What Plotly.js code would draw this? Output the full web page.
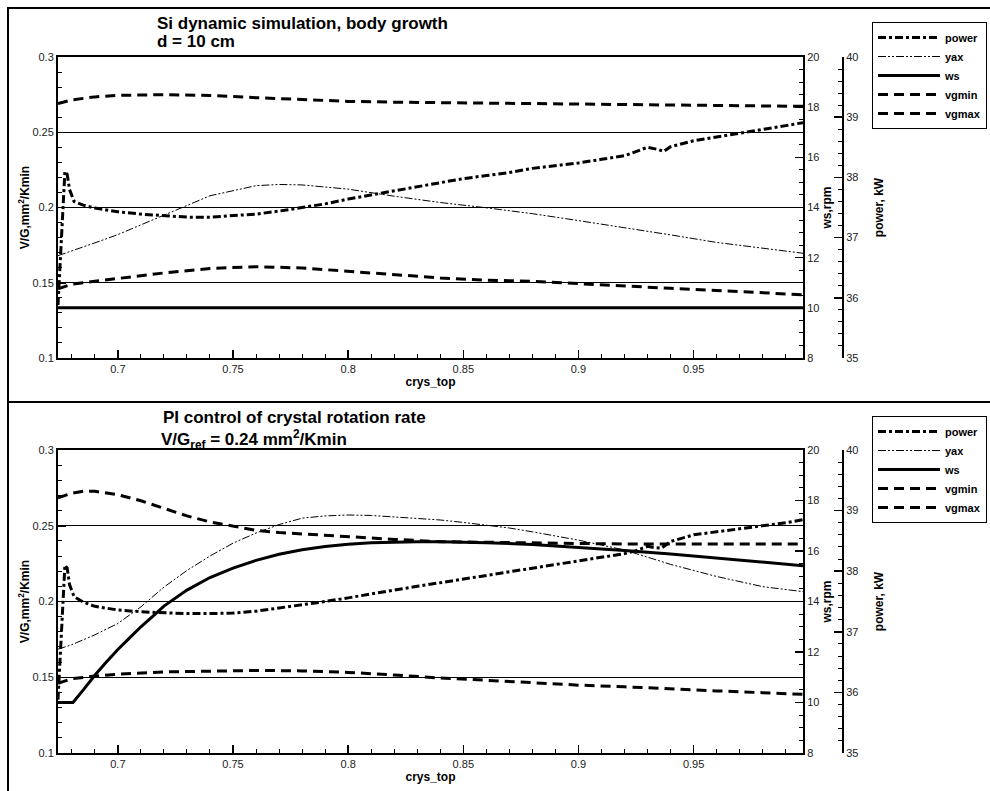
<!DOCTYPE html>
<html>
<head>
<meta charset="utf-8">
<script src="https://cdn.plot.ly/plotly-3.0.1.min.js"></script>
<style>html,body{margin:0;padding:0;background:#fff}#chart{width:990px;height:791px}</style>
</head>
<body>
<div id="chart"></div>
<script>
// ---------- top panel: Si dynamic simulation, body growth ----------
const topVgX      = [0.674,0.68,0.69,0.70,0.72,0.74,0.76,0.78,0.80,0.82,0.84,0.86,0.88,0.90,0.92,0.94,0.96,0.98,0.9975];
const topVgmax    = [0.269,0.2715,0.2735,0.2745,0.275,0.2745,0.273,0.2715,0.2705,0.270,0.2697,0.2693,0.269,0.2687,0.2683,0.268,0.2677,0.2675,0.2672];
const topVgmin    = [0.146,0.149,0.151,0.1528,0.1565,0.1595,0.1607,0.1598,0.1575,0.155,0.1532,0.1517,0.151,0.1494,0.1477,0.1463,0.1449,0.1435,0.142];
const topYaxX     = [0.674,0.68,0.69,0.70,0.72,0.74,0.76,0.77,0.78,0.80,0.82,0.84,0.86,0.88,0.90,0.92,0.94,0.96,0.98,0.9975];
const topYax      = [0.168,0.171,0.1765,0.182,0.1949,0.2078,0.2145,0.2153,0.2150,0.2122,0.2075,0.2033,0.1998,0.1959,0.1913,0.1867,0.1818,0.1768,0.1729,0.1696];
const topWsX      = [0.674,0.9975];
const topWs       = [10,10];
const topPowerX   = [0.674,0.675,0.676,0.677,0.678,0.679,0.681,0.685,0.69,0.70,0.71,0.72,0.73,0.74,0.75,0.76,0.77,0.78,0.79,0.80,0.81,0.82,0.83,0.84,0.85,0.86,0.87,0.88,0.89,0.90,0.91,0.92,0.93,0.935,0.937,0.94,0.95,0.96,0.97,0.98,0.99,0.9975];
const topPower    = [35.88,36.63,37.50,38.10,38.05,37.80,37.60,37.54,37.49,37.43,37.39,37.36,37.34,37.34,37.36,37.39,37.44,37.50,37.56,37.64,37.71,37.78,37.85,37.91,37.98,38.03,38.08,38.15,38.19,38.24,38.30,38.36,38.50,38.46,38.43,38.51,38.61,38.67,38.74,38.80,38.86,38.91];

// ---------- bottom panel: PI control of crystal rotation rate ----------
const botVgmaxX   = [0.674,0.68,0.685,0.69,0.70,0.71,0.72,0.73,0.74,0.75,0.76,0.77,0.78,0.80,0.82,0.84,0.86,0.88,0.90,0.92,0.94,0.96,0.98,0.9975];
const botVgmax    = [0.2685,0.2715,0.2728,0.2727,0.2705,0.2665,0.2615,0.2565,0.2525,0.2495,0.247,0.2455,0.2445,0.2425,0.241,0.2395,0.239,0.2385,0.2383,0.238,0.238,0.238,0.238,0.238];
const botVgminX   = [0.674,0.68,0.69,0.70,0.72,0.74,0.76,0.78,0.80,0.82,0.84,0.86,0.88,0.90,0.92,0.94,0.96,0.98,0.9975];
const botVgmin    = [0.146,0.149,0.1508,0.152,0.1535,0.1542,0.1545,0.1542,0.1532,0.1515,0.1495,0.148,0.1462,0.1448,0.1437,0.1422,0.141,0.1398,0.1387];
const botYaxX     = [0.674,0.68,0.69,0.70,0.71,0.72,0.73,0.74,0.75,0.76,0.77,0.78,0.79,0.80,0.81,0.82,0.83,0.84,0.85,0.86,0.87,0.88,0.89,0.90,0.92,0.94,0.96,0.98,0.9975];
const botYax      = [0.1685,0.1715,0.178,0.1855,0.1965,0.2095,0.2205,0.230,0.2385,0.2452,0.2508,0.255,0.2565,0.2571,0.2568,0.2558,0.2552,0.2538,0.2522,0.2505,0.2485,0.246,0.2435,0.2405,0.234,0.2245,0.2165,0.2098,0.2065];
const botWsX      = [0.674,0.6805,0.685,0.69,0.695,0.70,0.705,0.71,0.715,0.72,0.73,0.74,0.75,0.76,0.77,0.78,0.79,0.80,0.81,0.82,0.83,0.84,0.86,0.88,0.90,0.92,0.94,0.96,0.98,0.9975];
const botWs       = [10,10,10.5,11.08,11.6,12.1,12.55,13.0,13.4,13.82,14.45,14.95,15.32,15.63,15.87,16.05,16.18,16.27,16.33,16.36,16.37,16.37,16.33,16.26,16.15,16.02,15.88,15.72,15.56,15.42];
const botPowerX   = [0.674,0.675,0.676,0.677,0.678,0.679,0.681,0.685,0.69,0.70,0.71,0.72,0.73,0.74,0.75,0.76,0.77,0.78,0.79,0.80,0.81,0.82,0.83,0.84,0.85,0.86,0.87,0.88,0.89,0.90,0.91,0.92,0.925,0.93,0.933,0.936,0.94,0.95,0.96,0.97,0.98,0.99,0.9975];
const botPower    = [35.88,36.63,37.50,38.10,38.05,37.78,37.58,37.49,37.42,37.36,37.33,37.31,37.30,37.30,37.31,37.34,37.39,37.45,37.50,37.56,37.63,37.69,37.75,37.81,37.86,37.92,37.98,38.04,38.10,38.16,38.22,38.29,38.34,38.41,38.39,38.38,38.49,38.60,38.65,38.70,38.75,38.80,38.85];

// ---------- labels ----------
const seriesNames = ['power','yax','ws','vgmin','vgmax'];
const topTitle1 = 'Si dynamic simulation, body growth';
const topTitle2 = 'd = 10 cm';
const botTitle1 = 'PI control of crystal rotation rate';
const botTitle2 = 'V/G<sub>ref</sub> = 0.24 mm<sup>2</sup>/Kmin';
const xTitle = 'crys_top';
const vgTitle = 'V/G,mm<sup>2</sup>/Kmin';
const wsTitle = 'ws,rpm';
const powerTitle = 'power, kW';
const xTickVals = [0.7,0.75,0.8,0.85,0.9,0.95];
const vgTickVals = [0.1,0.15,0.2,0.25,0.3];
const wsTickVals = [8,10,12,14,16,18,20];
const powerTickVals = [35,36,37,38,39,40];

const FONT = 'Liberation Sans, Arial, Helvetica, sans-serif';
const styles = {
  power: {color:'#000', width:3, dash:'8px,3px,3px,3px'},
  yax:   {color:'#000', width:1, dash:'8px,2px,2px,2px,2px,2px'},
  ws:    {color:'#000', width:3},
  vgmin: {color:'#000', width:3, dash:'10px,6px'},
  vgmax: {color:'#000', width:3, dash:'10px,6px'}
};

function panel(xa, ya, yws, ypw, leg, d) {
  return [
    {x:d.powerX, y:d.power, name:seriesNames[0], xaxis:xa, yaxis:ypw, legend:leg, mode:'lines', line:styles.power},
    {x:d.yaxX, y:d.yax, name:seriesNames[1], xaxis:xa, yaxis:ya, legend:leg, mode:'lines', line:styles.yax},
    {x:d.wsX, y:d.ws, name:seriesNames[2], xaxis:xa, yaxis:yws, legend:leg, mode:'lines', line:styles.ws},
    {x:d.vgminX, y:d.vgmin, name:seriesNames[3], xaxis:xa, yaxis:ya, legend:leg, mode:'lines', line:styles.vgmin},
    {x:d.vgmaxX, y:d.vgmax, name:seriesNames[4], xaxis:xa, yaxis:ya, legend:leg, mode:'lines', line:styles.vgmax}
  ];
}

const data = [].concat(
  panel('x','y','y2','y3','legend', {powerX:topPowerX, power:topPower, yaxX:topYaxX, yax:topYax, wsX:topWsX, ws:topWs, vgminX:topVgX, vgmin:topVgmin, vgmaxX:topVgX, vgmax:topVgmax}),
  panel('x2','y4','y5','y6','legend2', {powerX:botPowerX, power:botPower, yaxX:botYaxX, yax:botYax, wsX:botWsX, ws:botWs, vgminX:botVgminX, vgmin:botVgmin, vgmaxX:botVgmaxX, vgmax:botVgmax})
);

const W = 990, H = 791;
const px = v => v / W;
const py = v => 1 - v / H;
const tickFont = {family:FONT, size:11, color:'#222'};
const titleFont = {family:FONT, size:12, color:'#000', weight:'bold'};

function xAxis(anchor) {
  return {
    domain:[px(58), px(803)], anchor:anchor, range:[0.674, 0.9975],
    tickvals:xTickVals, ticktext:xTickVals.map(String), ticks:'inside', ticklen:8, tickwidth:1.5, tickcolor:'#000',
    minor:{dtick:0.01, ticks:'inside', ticklen:4, tickwidth:1, tickcolor:'#000'},
    showline:true, linecolor:'#000', linewidth:2, mirror:true, showgrid:false, zeroline:false,
    tickfont:tickFont, title:{text:xTitle, font:titleFont, standoff:0}
  };
}
function vgAxis(anchor, dom) {
  return {
    domain:dom, anchor:anchor, range:[0.1, 0.3],
    tickvals:vgTickVals, ticktext:vgTickVals.map(String), ticks:'inside', ticklen:8, tickwidth:1.5, tickcolor:'#000',
    minor:{dtick:0.01, ticks:'inside', ticklen:4, tickwidth:1, tickcolor:'#000'},
    showline:true, linecolor:'#000', linewidth:2, showgrid:true, gridcolor:'#000', gridwidth:1, zeroline:false,
    tickfont:tickFont, title:{text:vgTitle, font:titleFont, standoff:0}
  };
}
function wsAxis(anchor, over, dom) {
  return {
    domain:dom, anchor:anchor, overlaying:over, side:'right', range:[8, 20],
    tickvals:wsTickVals, ticktext:wsTickVals.map(String), ticks:'inside', ticklen:8, tickwidth:1.5, tickcolor:'#000',
    minor:{dtick:0.5, ticks:'inside', ticklen:4, tickwidth:1, tickcolor:'#000'},
    showline:true, linecolor:'#000', linewidth:2, showgrid:false, zeroline:false,
    tickfont:tickFont, title:{text:wsTitle, font:titleFont, standoff:4}
  };
}
function pwAxis(over, dom) {
  return {
    domain:dom, anchor:'free', overlaying:over, side:'right', position:px(843), range:[35, 40],
    tickvals:powerTickVals, ticktext:powerTickVals.map(String), ticks:'inside', ticklen:8, tickwidth:1.5, tickcolor:'#000',
    minor:{dtick:0.2, ticks:'inside', ticklen:4, tickwidth:1, tickcolor:'#000'},
    showline:true, linecolor:'#000', linewidth:2, showgrid:false, zeroline:false,
    tickfont:tickFont, title:{text:powerTitle, font:titleFont, standoff:16}
  };
}

const domTop = [py(358), py(57)];
const domBot = [py(753), py(450)];

function ann(text, x, y, size) {
  return {text:'<b>'+text+'</b>', xref:'paper', yref:'paper', x:px(x), y:py(y), xanchor:'left', yanchor:'middle',
          showarrow:false, borderpad:0, font:{family:FONT, size:size, color:'#000'}};
}

const legendStyle = (ytop) => ({
  x:px(987), y:py(ytop), xanchor:'right', yanchor:'top', bgcolor:'#fff', bordercolor:'#000', borderwidth:1,
  font:{family:FONT, size:11, color:'#000', weight:'bold'}, tracegroupgap:0, itemwidth:62
});

const layout = {
  width:W, height:H, margin:{l:0, r:0, t:0, b:0, autoexpand:false},
  paper_bgcolor:'#fff', plot_bgcolor:'rgba(0,0,0,0)', showlegend:true,
  font:{family:FONT, color:'#000'},
  xaxis:xAxis('y'), yaxis:vgAxis('x', domTop), yaxis2:wsAxis('x','y',domTop), yaxis3:pwAxis('y',domTop),
  xaxis2:xAxis('y4'), yaxis4:vgAxis('x2', domBot), yaxis5:wsAxis('x2','y4',domBot), yaxis6:pwAxis('y4',domBot),
  legend:legendStyle(22), legend2:legendStyle(416),
  annotations:[
    ann(topTitle1, 156, 23, 17), ann(topTitle2, 156, 42, 17),
    ann(botTitle1, 162, 418, 17), ann(botTitle2, 160, 439, 17)
  ],
  shapes:[
    {type:'rect', xref:'paper', yref:'paper', x0:px(8), x1:px(1000), y0:py(800), y1:py(8), line:{color:'#000', width:2}},
    {type:'line', xref:'paper', yref:'paper', x0:px(8), x1:px(1000), y0:py(402), y1:py(402), line:{color:'#000', width:2}}
  ]
};

Plotly.newPlot('chart', data, layout, {staticPlot:true, displayModeBar:false});
</script>
</body>
</html>
